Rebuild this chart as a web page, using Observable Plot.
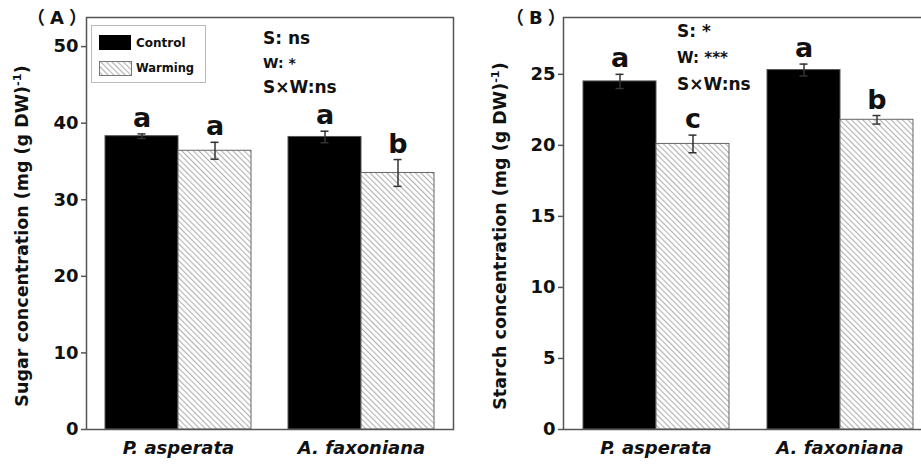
<!DOCTYPE html>
<html><head><meta charset="utf-8">
<script src="https://cdn.jsdelivr.net/npm/d3@7"></script>
<script src="https://cdn.jsdelivr.net/npm/@observablehq/plot@0.6"></script>
<style>
body{margin:0;background:#fff;overflow:hidden}
#fig{position:relative;width:921px;height:466px;overflow:hidden;font-family:"DejaVu Sans",sans-serif;font-weight:bold;color:#111;background:#fff}
.panel{position:absolute;top:0}
.ann{position:absolute;white-space:nowrap;line-height:1}
.ttl{font-family:"DejaVu Sans","Noto Sans CJK SC",sans-serif;letter-spacing:5px}
.ylab{position:absolute;white-space:nowrap;line-height:1;transform:translate(-50%,-50%) rotate(-90deg)}
svg [aria-label="fx-axis tick label"] text{font-style:italic}
</style></head><body>
<svg width="0" height="0" style="position:absolute">
<defs><pattern id="hatch" patternUnits="userSpaceOnUse" width="4" height="4" patternTransform="rotate(-45)"><rect width="4" height="4" fill="#fff"/><line x1="0.6" y1="0" x2="0.6" y2="4" stroke="#aaa" stroke-width="1"/></pattern></defs></svg>
<div id="fig"></div>
<script>
const species = ["P. asperata", "A. faxoniana"];
const treatments = ["Control", "Warming"];
const sugarMean = [38.3, 36.4, 38.2, 33.5];
const sugarErr = [0.3, 1.1, 0.75, 1.75];
const sugarLetters = ["a", "a", "a", "b"];
const starchMean = [24.5, 20.1, 25.3, 21.8];
const starchErr = [0.5, 0.62, 0.42, 0.3];
const starchLetters = ["a", "c", "a", "b"];
const sugarTicks = [0, 10, 20, 30, 40, 50];
const starchTicks = [0, 5, 10, 15, 20, 25];
const sugarStats = ["S: ns", "W: *", "S×W:ns"];
const starchStats = ["S: *", "W: ***", "S×W:ns"];

const FONT = '"DejaVu Sans", sans-serif';
const fig = document.getElementById("fig");

function panel({means, errs, letters, ticks, yMax, width, marginLeft, paddingOuter, left}) {
  const rows = means.map((v, i) => ({
    species: species[Math.floor(i / 2)], treatment: treatments[i % 2],
    v, lo: v - errs[i], hi: v + errs[i], letter: letters[i]
  }));
  const ctrl = rows.filter(d => d.treatment === "Control");
  const warm = rows.filter(d => d.treatment === "Warming");
  const common = {
    width, height: 466, marginLeft, marginRight: 7, marginTop: 17, marginBottom: 37,
    style: {fontFamily: FONT, fontWeight: "bold", fontSize: "18px", color: "#111", background: "transparent", overflow: "visible"}
  };
  const bars = Plot.plot({
    ...common,
    fx: {domain: species, paddingInner: 0.2, paddingOuter, label: null},
    x: {domain: treatments, padding: 0, axis: null},
    y: {domain: [0, yMax], axis: null},
    marks: [
      Plot.barY(ctrl, {fx: "species", x: "treatment", y: "v", fill: "#000", stroke: "#555", strokeWidth: 1}),
      Plot.barY(warm, {fx: "species", x: "treatment", y: "v", fill: "url(#hatch)", stroke: "#666", strokeWidth: 1}),
      Plot.ruleX(rows, {fx: "species", x: "treatment", y1: "lo", y2: "hi", stroke: "#333", strokeWidth: 1.5}),
      Plot.tickY(rows, {fx: "species", x: "treatment", y: "hi", inset: 32.5, stroke: "#333", strokeWidth: 1.5}),
      Plot.tickY(rows, {fx: "species", x: "treatment", y: "lo", inset: 32.5, stroke: "#333", strokeWidth: 1.5}),
      Plot.text(rows, {fx: "species", x: "treatment", y: "hi", text: "letter", dy: -7, lineAnchor: "bottom", fontSize: 27, fontWeight: "bold", fill: "#111"}),
      Plot.axisFx({anchor: "bottom", tickSize: 0, tickPadding: 12, fontSize: 18, fontStyle: "italic", label: null})
    ]
  });
  const axes = Plot.plot({
    ...common,
    y: {domain: [0, yMax]},
    marks: [
      Plot.axisY({ticks, tickSize: 5, tickPadding: 3, stroke: "#555", strokeWidth: 1.5, label: null, fontSize: 18, fontWeight: "bold"}),
      Plot.frame({stroke: "#555", strokeWidth: 1.5})
    ]
  });
  for (const s of [bars, axes]) {
    s.classList.add("panel");
    s.style.left = left + "px";
    fig.appendChild(s);
  }
}

panel({means: sugarMean, errs: sugarErr, letters: sugarLetters, ticks: sugarTicks, yMax: 53.8, width: 460, marginLeft: 86, paddingOuter: 0.1, left: 0});
panel({means: starchMean, errs: starchErr, letters: starchLetters, ticks: starchTicks, yMax: 29, width: 480, marginLeft: 103, paddingOuter: 0.105, left: 460});

function ann(text, x, yc, size, extra) {
  const d = document.createElement("div");
  d.className = "ann";
  d.textContent = text;
  d.style.left = x + "px";
  d.style.top = (yc - size / 2) + "px";
  d.style.fontSize = size + "px";
  if (extra) Object.assign(d.style, extra);
  fig.appendChild(d);
  return d;
}
function ylab(text, xc, yc, size) {
  const d = document.createElement("div");
  d.className = "ylab";
  d.innerHTML = text;
  d.style.left = xc + "px";
  d.style.top = yc + "px";
  d.style.fontSize = size + "px";
  fig.appendChild(d);
}
// panel titles
ann("（A）", 27, 18, 18).classList.add("ttl");
ann("（B）", 506, 18, 18).classList.add("ttl");
// y labels
ylab("Sugar concentration (mg (g DW)<sup style='font-size:0.65em'>-1</sup>)", 22, 236, 17.5);
ylab("Starch concentration (mg (g DW)<sup style='font-size:0.65em'>-1</sup>)", 500, 236, 17.5);
// stats
ann(sugarStats[0], 263, 38, 17);
ann(sugarStats[1], 263, 63, 14);
ann(sugarStats[2], 263, 87, 17);
ann(starchStats[0], 677, 31, 17);
ann(starchStats[1], 677, 58, 15);
ann(starchStats[2], 677, 84, 17);
// legend box
const box = document.createElement("div");
Object.assign(box.style, {position: "absolute", left: "91px", top: "25px", width: "113px", height: "56px", border: "1px solid #bbb", background: "#fff"});
fig.appendChild(box);
const sw1 = document.createElement("div");
Object.assign(sw1.style, {position: "absolute", left: "99px", top: "35px", width: "32px", height: "15px", background: "#000"});
fig.appendChild(sw1);
const sw2 = document.createElementNS("http://www.w3.org/2000/svg", "svg");
sw2.setAttribute("width", 33); sw2.setAttribute("height", 15);
Object.assign(sw2.style, {position: "absolute", left: "99px", top: "61px"});
sw2.innerHTML = '<rect x="0.5" y="0.5" width="32" height="14" fill="url(#hatch)" stroke="#777" stroke-width="1"/>';
fig.appendChild(sw2);
ann(treatments[0], 136, 43, 12);
ann(treatments[1], 136, 69, 11.5);
</script>
</body></html>
